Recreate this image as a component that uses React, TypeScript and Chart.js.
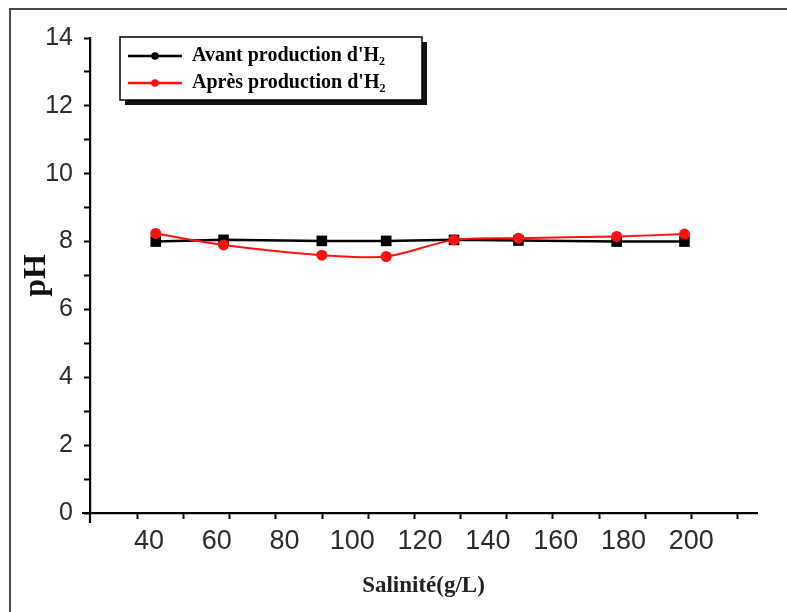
import React, { useEffect, useRef } from 'react';
import { Chart, registerables } from 'chart.js';

Chart.register(...registerables);

// ---- data ----
const salinity = [42, 62, 91, 110, 130, 149, 178, 198];
const phBefore = [8.0, 8.05, 8.02, 8.02, 8.05, 8.03, 8.0, 8.0];
const phAfter = [8.24, 7.9, 7.6, 7.56, 8.05, 8.1, 8.15, 8.22];
const seriesNames = ["Avant production d'H₂", "Après production d'H₂"];
const seriesColors = ['#000000', '#ff1010'];
const xLabelValues = [40, 60, 80, 100, 120, 140, 160, 180, 200];
const xMarkStart = 36.6;
const xMarkStep = 13.62;
const xMarkCount = 14;
const yLabelValues = [0, 2, 4, 6, 8, 10, 12, 14];
const xTitle = 'Salinité(g/L)';
const yTitle = 'pH';

const SERIF = "'Liberation Serif', 'DejaVu Serif', serif";
const SANS = "'Liberation Sans', Arial, sans-serif";

function legendSample(color: string): HTMLCanvasElement {
  const c = document.createElement('canvas');
  c.width = 54;
  c.height = 10;
  const g = c.getContext('2d')!;
  g.strokeStyle = color;
  g.lineWidth = 2.4;
  g.beginPath();
  g.moveTo(0, 5);
  g.lineTo(54, 5);
  g.stroke();
  g.fillStyle = color;
  g.beginPath();
  g.arc(27, 5, 3.8, 0, Math.PI * 2);
  g.fill();
  return c;
}

export default function App() {
  const ref = useRef<HTMLCanvasElement | null>(null);

  useEffect(() => {
    if (!ref.current) return;
    const samples = seriesColors.map(legendSample);
    const labelSet = new Set(xLabelValues);
    const markValues = Array.from({ length: xMarkCount }, (_, i) => xMarkStart + i * xMarkStep);

    const framePlugin = {
      id: 'framePlugin',
      afterLayout(chart: any) {
        const ca = chart.chartArea;
        if (chart.legend) {
          chart.legend.left = ca.left + 31;
          chart.legend.top = ca.top + 1;
        }
      },
      beforeDraw(chart: any) {
        const ctx = chart.ctx;
        const ca = chart.chartArea;
        ctx.save();
        ctx.fillStyle = '#ffffff';
        ctx.fillRect(0, 0, chart.width, chart.height);
        // outer frame
        ctx.strokeStyle = '#4a4a4a';
        ctx.lineWidth = 2;
        ctx.beginPath();
        ctx.moveTo(10, chart.height + 5);
        ctx.lineTo(10, 9);
        ctx.lineTo(chart.width + 5, 9);
        ctx.stroke();
        // axis overhangs
        ctx.strokeStyle = '#000000';
        ctx.lineWidth = 2.2;
        ctx.beginPath();
        ctx.moveTo(ca.left - 8, ca.bottom);
        ctx.lineTo(ca.left, ca.bottom);
        ctx.moveTo(ca.left, ca.bottom);
        ctx.lineTo(ca.left, ca.bottom + 10);
        ctx.stroke();
        // legend box with shadow
        const bx = ca.left + 30;
        const by = ca.top - 1;
        const bw = 302;
        const bh = 63;
        ctx.fillStyle = '#111111';
        ctx.fillRect(bx + 5, by + 5, bw, bh);
        ctx.fillStyle = '#ffffff';
        ctx.fillRect(bx, by, bw, bh);
        ctx.strokeStyle = '#000000';
        ctx.lineWidth = 1.5;
        ctx.strokeRect(bx, by, bw, bh);
        ctx.restore();
      },
    };

    const chart = new Chart(ref.current, {
      type: 'line',
      data: {
        datasets: [
          {
            label: seriesNames[0],
            data: salinity.map((x, i) => ({ x, y: phBefore[i] })),
            borderColor: seriesColors[0],
            backgroundColor: seriesColors[0],
            borderWidth: 2.5,
            pointStyle: 'rect',
            pointRadius: 7.5,
            pointBorderWidth: 0,
            tension: 0,
            order: 1,
          },
          {
            label: seriesNames[1],
            data: salinity.map((x, i) => ({ x, y: phAfter[i] })),
            borderColor: seriesColors[1],
            backgroundColor: seriesColors[1],
            borderWidth: 2,
            pointStyle: 'circle',
            pointRadius: 5.5,
            pointBorderWidth: 0,
            tension: 0.3,
            order: 0,
          },
        ],
      },
      options: {
        animation: false,
        responsive: true,
        maintainAspectRatio: false,
        layout: { padding: { top: 38, right: 30, left: 0, bottom: 0 } },
        plugins: {
          tooltip: { enabled: false },
          legend: {
            position: 'chartArea' as any,
            align: 'start',
            labels: {
              usePointStyle: true,
              pointStyleWidth: 54,
              padding: 7,
              color: '#1a1a1a',
              font: { family: SERIF, weight: 'bold', size: 20 },
              generateLabels: (ch: any) =>
                ch.data.datasets.map((ds: any, i: number) => ({
                  text: ds.label,
                  fillStyle: ds.backgroundColor,
                  strokeStyle: ds.borderColor,
                  lineWidth: 0,
                  pointStyle: samples[i],
                  hidden: false,
                  datasetIndex: i,
                })),
            },
          },
        },
        scales: {
          x: {
            type: 'linear',
            min: 22.6,
            max: 219.4,
            afterFit: (s: any) => {
              s.height = 99;
            },
            afterBuildTicks: (s: any) => {
              const vals = [...xLabelValues, ...markValues].sort((a, b) => a - b);
              s.ticks = vals.map((v) => ({ value: v }));
            },
            border: { display: true, color: '#000000', width: 2.2 },
            grid: {
              drawOnChartArea: false,
              drawTicks: true,
              tickLength: 6,
              tickWidth: 2,
              tickColor: (c: any) => (c.tick && labelSet.has(c.tick.value) ? 'rgba(0,0,0,0)' : '#000000'),
            },
            ticks: {
              autoSkip: false,
              maxRotation: 0,
              minRotation: 0,
              padding: 6,
              color: '#2b2b2b',
              font: { family: SANS, size: 27 },
              callback: (v: any) => (labelSet.has(v) ? String(v) : ''),
            },
            title: {
              display: true,
              text: xTitle,
              color: '#222222',
              font: { family: SERIF, weight: 'bold', size: 23 },
              padding: { top: 0, bottom: 12 },
            },
          },
          y: {
            type: 'linear',
            min: 0,
            max: 14,
            afterFit: (s: any) => {
              s.width = 90;
            },
            afterBuildTicks: (s: any) => {
              const vals: number[] = [];
              for (let v = 0; v <= 14; v++) vals.push(v);
              s.ticks = vals.map((v) => ({ value: v }));
            },
            border: { display: true, color: '#000000', width: 2.2 },
            grid: {
              drawOnChartArea: false,
              drawTicks: true,
              tickLength: 6,
              tickWidth: 2,
              tickColor: '#000000',
            },
            ticks: {
              autoSkip: false,
              padding: 11,
              color: '#2b2b2b',
              font: { family: SANS, size: 25 },
              callback: (v: any) => (yLabelValues.includes(v) ? String(v) : ''),
            },
            title: {
              display: true,
              text: yTitle,
              color: '#111111',
              font: { family: SERIF, weight: 'bold', size: 32 },
              padding: { top: 18, bottom: 0 },
            },
          },
        },
      },
      plugins: [framePlugin],
    });
    return () => chart.destroy();
  }, []);

  return (
    <div style={{ position: 'absolute', left: 0, top: 0, width: 787, height: 612 }}>
      <canvas ref={ref} />
    </div>
  );
}
